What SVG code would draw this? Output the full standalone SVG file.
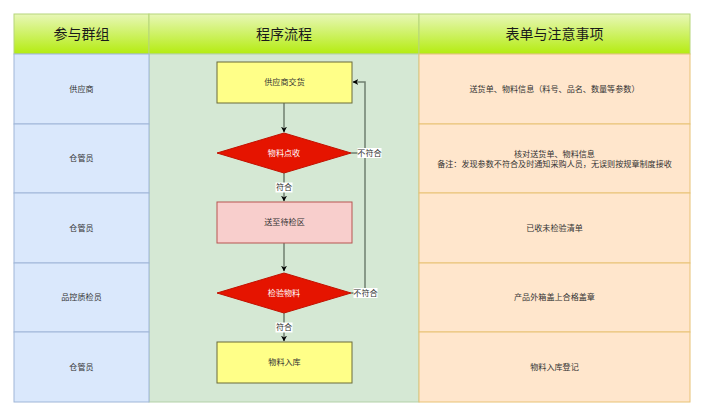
<svg xmlns="http://www.w3.org/2000/svg" width="703" height="416" viewBox="0 0 703 416">
<style>
text{font-family:"Liberation Sans","Noto Sans CJK SC",sans-serif;text-anchor:middle;dominant-baseline:central;}
.h{font-size:14px;fill:#1a1a1a;}
.t{font-size:8.1px;fill:#333;}
.lane-l{fill:#dae8fc;stroke:#9fb6d8;stroke-width:1;}
.lane-m{fill:#d5e8d4;stroke:#b3d1a8;stroke-width:1;}
.lane-r{fill:#ffe6cc;stroke:#e8c274;stroke-width:1;}
.hdr{fill:url(#g);stroke:#b6d67a;stroke-width:1;}
.proc{fill:#ffff88;stroke:#6b6b3a;stroke-width:1;}
.pink{fill:#f8cecc;stroke:#b85450;stroke-width:1;}
.dec{fill:#e51400;stroke:#c21100;stroke-width:1;}
.edge{fill:none;stroke:#6f7f6f;stroke-width:1.5;}
.lbl{fill:#fff;}
</style>
<defs>
<linearGradient id="g" x1="0" y1="0" x2="0" y2="1">
<stop offset="0" stop-color="#e8f7b8"/>
<stop offset="1" stop-color="#b4ec10"/>
</linearGradient>
<marker id="a" viewBox="0 0 10 10" refX="9" refY="5" markerWidth="6" markerHeight="6" orient="auto" markerUnits="userSpaceOnUse">
<path d="M0,0 L10,5 L0,10 L3,5 z" fill="#000"/>
</marker>
</defs>
<g id="header">
<rect class="hdr" x="14" y="14" width="135" height="40"/>
<rect class="hdr" x="149" y="14" width="270" height="40"/>
<rect class="hdr" x="419" y="14" width="271" height="40"/>
<text class="h" x="81.5" y="34">参与群组</text>
<text class="h" x="284" y="34">程序流程</text>
<text class="h" x="554.5" y="34">表单与注意事项</text>
</g>
<g id="lane-mid"><rect class="lane-m" x="149" y="54" width="270" height="348"/></g>
<g id="lane-left">
<rect class="lane-l" x="14" y="54" width="135" height="70"/>
<rect class="lane-l" x="14" y="124" width="135" height="69"/>
<rect class="lane-l" x="14" y="193" width="135" height="70"/>
<rect class="lane-l" x="14" y="263" width="135" height="69"/>
<rect class="lane-l" x="14" y="332" width="135" height="70"/>
<text class="t" x="81.5" y="89">供应商</text>
<text class="t" x="81.5" y="158.5">仓管员</text>
<text class="t" x="81.5" y="228">仓管员</text>
<text class="t" x="81.5" y="297.5">品控质检员</text>
<text class="t" x="81.5" y="367">仓管员</text>
</g>
<g id="lane-right">
<rect class="lane-r" x="419" y="54" width="271" height="70"/>
<rect class="lane-r" x="419" y="124" width="271" height="69"/>
<rect class="lane-r" x="419" y="193" width="271" height="70"/>
<rect class="lane-r" x="419" y="263" width="271" height="69"/>
<rect class="lane-r" x="419" y="332" width="271" height="70"/>
<text class="t" x="554.5" y="89">送货单、物料信息（料号、品名、数量等参数）</text>
<text class="t" x="554.5" y="154">核对送货单、物料信息</text>
<text class="t" x="554.5" y="164">备注：发现参数不符合及时通知采购人员，无误则按规章制度接收</text>
<text class="t" x="554.5" y="228">已收未检验清单</text>
<text class="t" x="554.5" y="297.5">产品外箱盖上合格盖章</text>
<text class="t" x="554.5" y="367">物料入库登记</text>
</g>
<g id="connectors">
<path class="edge" d="M284,103 V132" marker-end="url(#a)"/>
<path class="edge" d="M284,173 V201" marker-end="url(#a)"/>
<path class="edge" d="M284,243 V271" marker-end="url(#a)"/>
<path class="edge" d="M284,313 V341" marker-end="url(#a)"/>
<path class="edge" d="M351,153 H365 V82 H353" marker-end="url(#a)"/>
<path class="edge" d="M351,293 H365 V150"/>
<rect class="lbl" x="275.5" y="182.5" width="17" height="10"/>
<text class="t" x="284" y="187.5">符合</text>
<rect class="lbl" x="275.5" y="322.5" width="17" height="10"/>
<text class="t" x="284" y="327.5">符合</text>
<rect class="lbl" x="357.5" y="148" width="24" height="10"/>
<text class="t" x="369.5" y="153">不符合</text>
<rect class="lbl" x="353.5" y="288" width="24" height="10"/>
<text class="t" x="365.5" y="293">不符合</text>
</g>
<g id="n1"><rect class="proc" x="217" y="62" width="135" height="41"/><text class="t" x="284.5" y="82.5">供应商交货</text></g>
<g id="n2"><polygon class="dec" points="217,153 284,133 351,153 284,173"/><text class="t" x="284" y="153" style="fill:#fff">物料点收</text></g>
<g id="n3"><rect class="pink" x="217" y="202" width="135" height="41"/><text class="t" x="284.5" y="222.5">送至待检区</text></g>
<g id="n4"><polygon class="dec" points="217,293 284,273 351,293 284,313"/><text class="t" x="284" y="293" style="fill:#fff">检验物料</text></g>
<g id="n5"><rect class="proc" x="217" y="342" width="135" height="41"/><text class="t" x="284.5" y="362.5">物料入库</text></g>
</svg>
